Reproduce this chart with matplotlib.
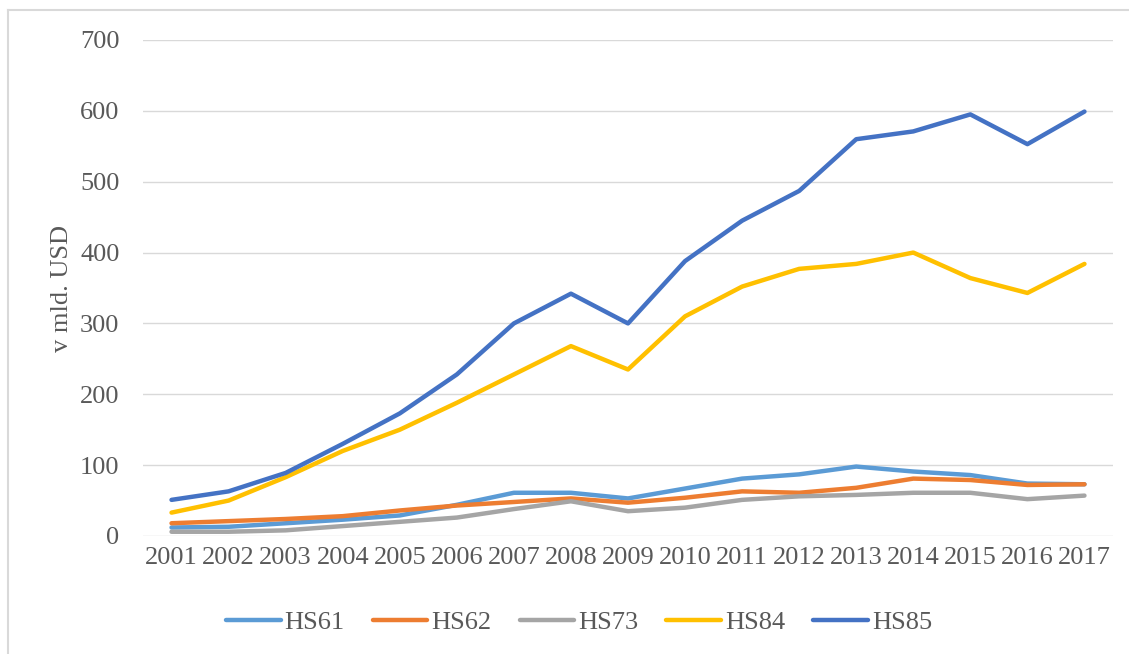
import matplotlib
matplotlib.use("Agg")
import matplotlib.pyplot as plt
from matplotlib.lines import Line2D

years = [str(y) for y in range(2001, 2018)]
hs61 = [12, 13, 18, 23, 29, 44, 61, 61, 53, 67, 81, 87, 98, 91, 86, 74, 73]
hs62 = [18, 21, 24, 28, 36, 43, 48, 53, 47, 54, 63, 61, 68, 81, 79, 72, 73]
hs73 = [6, 6, 8, 14, 20, 26, 38, 49, 35, 40, 51, 56, 58, 61, 61, 52, 57]
hs84 = [33, 50, 83, 120, 150, 188, 228, 268, 235, 310, 352, 377, 384, 400, 364, 343, 384]
hs85 = [51, 63, 89, 130, 173, 228, 300, 342, 300, 388, 445, 487, 560, 571, 595, 553, 599]

series = [("HS61", hs61, "#5B9BD5"), ("HS62", hs62, "#ED7D31"), ("HS73", hs73, "#A5A5A5"),
          ("HS84", hs84, "#FFC000"), ("HS85", hs85, "#4472C4")]

plt.rcParams['font.family'] = ['Liberation Serif', 'DejaVu Serif']
txt = "#595959"

fig = plt.figure(figsize=(11.29, 6.54), dpi=100)
ax = fig.add_axes([143/1129, 1-536/654, (1113-143)/1129, (536-40)/654])

x = list(range(len(years)))
for name, vals, col in series:
    ax.plot(x, vals, color=col, lw=3.2, label=name, solid_capstyle='round', solid_joinstyle='round')

ax.set_xlim(-0.5, len(years) - 0.5)
ax.set_ylim(0, 700)
ax.set_yticks(range(0, 701, 100))
ax.set_xticks(x)
ax.set_xticklabels(years)
ax.grid(axis='y', color='#D9D9D9', lw=1)
ax.set_axisbelow(True)
for s in ax.spines.values():
    s.set_visible(False)
ax.tick_params(axis='both', length=0, labelsize=19, colors=txt)
ax.tick_params(axis='y', pad=17)
ax.tick_params(axis='x', pad=8)
ax.set_ylabel("v mld. USD", fontsize=19, color=txt)
ax.yaxis.set_label_coords(-70/970, 0.5)

leg = fig.legend(loc='center', bbox_to_anchor=(579/1129, 1-622/654), ncol=5, frameon=False,
                 fontsize=19, handlelength=2.08, handletextpad=0.15, columnspacing=1.06,
                 labelcolor=txt)

fig.add_artist(Line2D([8/1129, 8/1129], [0, 1-10/654], color='#D9D9D9', lw=1.5, transform=fig.transFigure))
fig.add_artist(Line2D([8/1129, 1], [1-10/654, 1-10/654], color='#D9D9D9', lw=1.5, transform=fig.transFigure))

fig.savefig("out.png", dpi=100)
